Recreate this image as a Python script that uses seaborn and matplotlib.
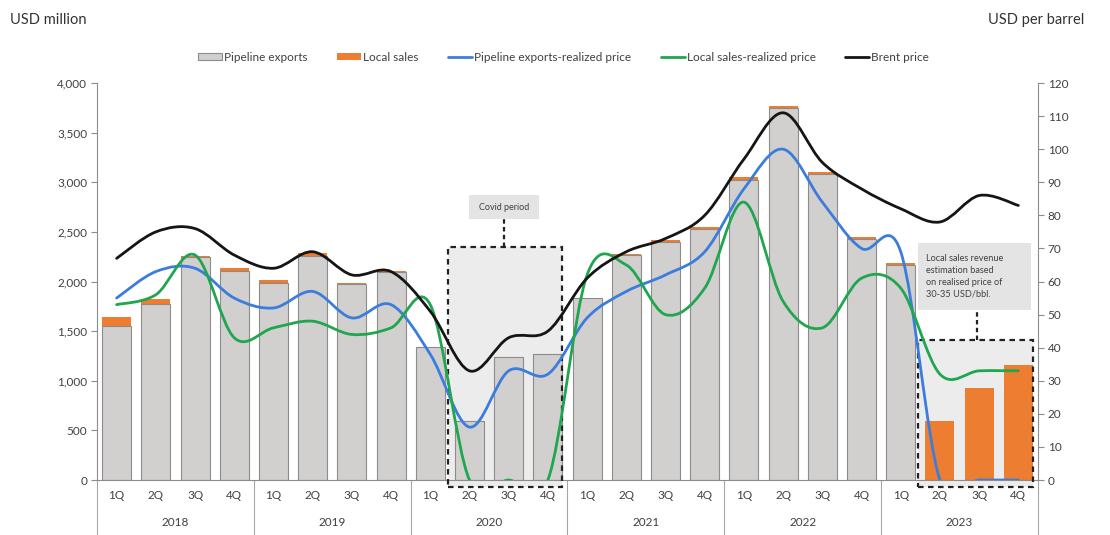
import numpy as np
import pandas as pd
import matplotlib

matplotlib.use("Agg")

import matplotlib.pyplot as plt
import seaborn as sns
from matplotlib.lines import Line2D
from matplotlib.patches import Patch, PathPatch, Rectangle
from matplotlib.path import Path


YEARS = ["2018", "2019", "2020", "2021", "2022", "2023"]
QUARTERS = ["1Q", "2Q", "3Q", "4Q"]

# USD million (left axis)
PIPELINE_EXPORTS = [1550, 1770, 2245, 2110, 1990, 2260, 1970, 2100,
                    1340, 590, 1240, 1270, 1830, 2270, 2395, 2525,
                    3025, 3750, 3085, 2430, 2165, 0, 0, 0]
LOCAL_SALES = [90, 55, 15, 30, 30, 25, 15, 10,
               0, 0, 0, 0, 0, 5, 20, 25,
               30, 20, 15, 20, 20, 590, 930, 1155]

# USD per barrel (right axis)
PIPELINE_PRICE = [55, 63, 64, 55, 52, 57, 49, 53,
                  38, 16, 33, 32, 49, 57, 62, 69,
                  88, 100, 84, 70, 69, 0, 0, 0]
LOCAL_PRICE = [53, 56, 68, 43, 46, 48, 44, 46,
               53, 0, 0, 0, 62, 65, 50, 58,
               84, 54, 46, 61, 58, 32, 33, 33]
BRENT_PRICE = [67, 75, 76, 68, 64, 69, 62, 63,
               51, 33, 43, 45, 61, 69, 73, 80,
               97, 111, 96, 88, 82, 78, 86, 83]

GREY = "#d2cfcf"
GREY_EDGE = "#8c8c8c"
ORANGE = "#ed7d31"
BLUE = "#3b7ddd"
GREEN = "#1fa64f"
BLACK = "#151515"
TEXT = "#404040"


def smooth_path(xs, ys):
    """Excel-like smoothed line: Catmull-Rom segments as cubic Bezier curves."""
    pts = np.column_stack([xs, ys]).astype(float)
    verts = [pts[0]]
    codes = [Path.MOVETO]
    for i in range(len(pts) - 1):
        p0 = pts[i - 1] if i > 0 else pts[i]
        p1, p2 = pts[i], pts[i + 1]
        p3 = pts[i + 2] if i + 2 < len(pts) else pts[i + 1]
        verts += [p1 + (p2 - p0) / 6, p2 - (p3 - p1) / 6, p2]
        codes += [Path.CURVE4] * 3
    return Path(verts, codes)


periods = [f"{y} {q}" for y in YEARS for q in QUARTERS]
df = pd.DataFrame({
    "period": periods,
    "pipeline": PIPELINE_EXPORTS,
    "local": LOCAL_SALES,
})
df["total"] = df["pipeline"] + df["local"]
xpos = np.arange(len(periods))

sns.set_theme(style="white")
plt.rcParams["font.family"] = ["Lato", "DejaVu Sans"]

fig = plt.figure(figsize=(11.1, 5.35), dpi=100)
ax = fig.add_axes([0.0874, 0.1028, 0.8477, 0.742])

# shaded annotation regions (behind bars)
ax.add_patch(Rectangle((8.46, -70), 2.9, 2418, facecolor="#ececec",
                       edgecolor="none", zorder=0.5, clip_on=False))
ax.add_patch(Rectangle((20.45, -70), 2.92, 1480, facecolor="#ececec",
                       edgecolor="none", zorder=0.5, clip_on=False))

sns.barplot(data=df, x="period", y="total", order=periods, color=ORANGE,
            saturation=1, width=0.74, edgecolor="none", ax=ax, zorder=2)
sns.barplot(data=df, x="period", y="pipeline", order=periods, color=GREY,
            saturation=1, width=0.74, edgecolor=GREY_EDGE, linewidth=0.8,
            ax=ax, zorder=2)

ax.set_xlim(-0.5, len(periods) - 0.5)
ax.set_ylim(0, 4000)
ax.set_yticks(range(0, 4001, 500))
ax.set_yticklabels([f"{v:,}" for v in range(0, 4001, 500)])
ax.set_xticks(xpos)
ax.set_xticklabels(QUARTERS * len(YEARS))
ax.set_xlabel("")
ax.set_ylabel("")
ax.tick_params(axis="x", length=0, pad=7, labelsize=8.5, labelcolor=TEXT)
ax.tick_params(axis="y", length=4, width=0.8, color="#8c8c8c", direction="out",
               left=True, labelsize=8.5, labelcolor=TEXT, pad=3)
for side in ["top", "right"]:
    ax.spines[side].set_visible(False)
for side in ["left", "bottom"]:
    ax.spines[side].set_color("#8c8c8c")
    ax.spines[side].set_linewidth(0.8)

# year labels and separators
trans = ax.get_xaxis_transform()
for i, year in enumerate(YEARS):
    ax.text(i * 4 + 1.5, -0.106, year, transform=trans, ha="center",
            va="center", fontsize=8.5, color=TEXT)
for i in range(len(YEARS) + 1):
    ax.plot([i * 4 - 0.5, i * 4 - 0.5], [0, -0.145], transform=trans,
            color="#a6a6a6", lw=0.8, clip_on=False)

# dashed borders, connectors and notes
dash = dict(fill=False, edgecolor="#222222", lw=1.6, linestyle=(0, (2.5, 2)),
            zorder=4, clip_on=False)
ax.add_patch(Rectangle((8.46, -70), 2.9, 2418, **dash))
ax.add_patch(Rectangle((20.45, -70), 2.92, 1480, **dash))
ax.plot([9.88, 9.88], [2348, 2640], color="#222222", lw=1.6,
        linestyle=(0, (2, 1.5)), zorder=4)
ax.plot([21.94, 21.94], [1410, 1710], color="#222222", lw=1.6,
        linestyle=(0, (2, 1.5)), zorder=4)
ax.add_patch(Rectangle((9.0, 2630), 1.78, 240, facecolor="#e4e4e4",
                       edgecolor="none", zorder=4))
ax.text(9.89, 2750, "Covid period", ha="center", va="center", fontsize=6.5,
        color=TEXT, zorder=5)
ax.add_patch(Rectangle((20.45, 1710), 2.88, 680, facecolor="#e4e4e4",
                       edgecolor="none", zorder=4))
ax.text(20.65, 2050, "Local sales revenue\nestimation based\non realised price of\n30-35 USD/bbl.",
        ha="left", va="center", fontsize=6.6, color=TEXT, linespacing=1.4,
        zorder=5)

# price lines on the right axis
ax2 = ax.twinx()
ax2.set_ylim(0, 120)
ax2.set_yticks(range(0, 121, 10))
ax2.tick_params(axis="y", length=4, width=0.8, color="#8c8c8c", direction="out",
                right=True, labelsize=8.5, labelcolor=TEXT, pad=3)
for side in ["top", "left", "bottom"]:
    ax2.spines[side].set_visible(False)
ax2.spines["right"].set_color("#8c8c8c")
ax2.spines["right"].set_linewidth(0.8)
ax2.grid(False)
ax.grid(False)

for values, color in [(PIPELINE_PRICE, BLUE), (LOCAL_PRICE, GREEN),
                      (BRENT_PRICE, BLACK)]:
    ax2.add_patch(PathPatch(smooth_path(xpos, values), fill=False,
                            edgecolor=color, lw=2.0, capstyle="round"))

fig.text(0.009, 0.962, "USD million", ha="left", va="center", fontsize=10.5,
         color="#333333")
fig.text(0.977, 0.962, "USD per barrel", ha="right", va="center", fontsize=10.5,
         color="#333333")

handles = [
    Patch(facecolor=GREY, edgecolor=GREY_EDGE, linewidth=0.8),
    Patch(facecolor=ORANGE, edgecolor="none"),
    Line2D([], [], color=BLUE, lw=2),
    Line2D([], [], color=GREEN, lw=2),
    Line2D([], [], color=BLACK, lw=2),
]
labels = ["Pipeline exports", "Local sales", "Pipeline exports-realized price",
          "Local sales-realized price", "Brent price"]
fig.legend(handles, labels, loc="center", bbox_to_anchor=(0.508, 0.893),
           ncol=5, frameon=False, fontsize=8.5, handlelength=2.0,
           handleheight=0.6, handletextpad=0.2, columnspacing=2.5,
           labelcolor=TEXT)

fig.savefig("out.png", dpi=100)
plt.close(fig)
